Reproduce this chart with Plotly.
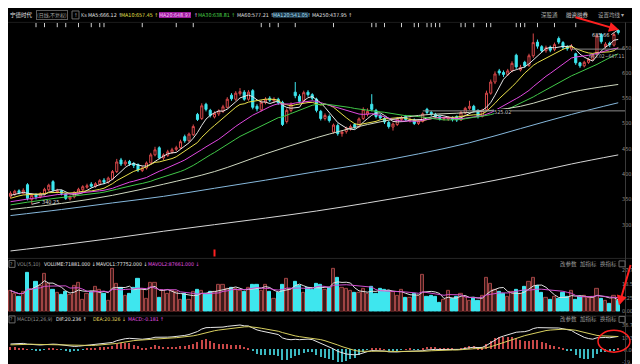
import plotly.graph_objects as go
import pandas as pd

W, H = 640, 364
FONT = "Noto Sans CJK SC"
NARROW = "Liberation Sans Narrow, DejaVu Sans Condensed, Noto Sans CJK SC"
RED = "#d9484a"
CYAN = "#3ee6ee"

# ---------------- data ----------------
pre_close = [318, 322, 320, 326, 330, 328, 324, 330, 334, 332, 336, 340, 338, 334, 330,
             336, 342, 346, 344, 340, 338, 344, 350, 348, 352, 356, 354, 358, 360]

opens = [
    356, 360, 367, 362, 379, 350, 359, 355, 361, 369,
    385, 364, 367, 361, 351, 355, 363, 369, 374, 380,
    376, 380, 388, 384, 390, 405, 428, 420, 425, 421,
    419, 407, 412, 422, 438, 452, 432, 437, 443, 449,
    452, 474, 466, 478, 518, 510, 538, 526, 513, 519,
    524, 532, 556, 548, 559, 562, 548, 565, 534, 527,
    542, 550, 545, 548, 542, 504, 526, 562, 554, 545,
    562, 557, 548, 524, 510, 514, 483, 496, 480, 484,
    490, 498, 494, 510, 518, 538, 526, 516, 510, 502,
    493, 498, 508, 514, 506, 507, 500, 504, 528, 522,
    518, 514, 509, 509, 512, 514, 507, 521, 530, 534,
    526, 514, 527, 560, 582, 604, 601, 597, 604, 635,
    606, 621, 615, 634, 661, 652, 644, 651, 646, 668,
    660, 652, 647, 638, 620, 614, 621, 627, 638, 676,
    652, 659, 655, 684]

closes = [
    362, 366, 363, 368, 352, 358, 355, 361, 370, 378,
    368, 367, 362, 352, 355, 364, 370, 375, 377, 376,
    381, 387, 384, 392, 405, 424, 420, 424, 420, 417,
    408, 412, 422, 438, 448, 432, 438, 444, 448, 452,
    464, 466, 479, 494, 508, 535, 528, 516, 520, 525,
    533, 548, 549, 560, 563, 548, 562, 532, 529, 542,
    548, 546, 548, 541, 498, 526, 538, 555, 544, 561,
    557, 550, 526, 510, 516, 506, 497, 480, 483, 490,
    494, 493, 509, 528, 524, 528, 514, 511, 503, 494,
    499, 509, 511, 508, 508, 500, 505, 519, 522, 519,
    514, 510, 510, 511, 508, 507, 522, 530, 534, 526,
    514, 526, 560, 582, 598, 600, 597, 604, 619, 612,
    611, 614, 634, 660, 653, 644, 650, 645, 656, 661,
    651, 648, 653, 620, 614, 621, 627, 635, 673, 662,
    657, 656, 676, 680]

highs = [
    366, 369, 370, 372, 382, 362, 362, 364, 373, 381,
    388, 371, 369, 363, 358, 366, 373, 378, 381, 384,
    384, 390, 392, 395, 408, 430, 432, 428, 428, 424,
    421, 416, 425, 442, 454, 455, 441, 448, 452, 456,
    468, 478, 482, 498, 521, 540, 541, 529, 524, 528,
    537, 552, 560, 564, 570, 566, 566, 568, 538, 546,
    552, 554, 552, 551, 545, 530, 542, 582, 558, 565,
    566, 560, 551, 527, 520, 518, 500, 500, 487, 494,
    498, 501, 512, 532, 530, 558, 529, 519, 513, 505,
    502, 513, 515, 517, 512, 510, 508, 522, 531, 525,
    521, 516, 513, 514, 514, 516, 525, 533, 545, 537,
    528, 529, 565, 587, 603, 608, 605, 608, 623, 638,
    616, 624, 638, 678, 666, 655, 654, 654, 660, 672,
    663, 655, 657, 640, 622, 624, 630, 638, 677, 679,
    661, 662, 680, 685.66]

lows = [
    352, 357, 360, 360, 348, 340.25, 350, 352, 358, 366,
    365, 362, 358, 349, 348, 352, 361, 366, 371, 373,
    373, 377, 380, 381, 388, 402, 416, 416, 416, 412,
    404, 404, 409, 420, 435, 429, 428, 434, 440, 445,
    449, 462, 463, 475, 505, 507, 524, 512, 510, 515,
    521, 530, 545, 545, 555, 545, 545, 528, 524, 524,
    538, 542, 541, 537, 495, 500, 522, 550, 540, 541,
    553, 546, 522, 506, 506, 502, 480, 476, 474, 480,
    486, 489, 491, 507, 514, 524, 510, 508, 499, 490,
    486, 495, 505, 505, 502, 497, 497, 502, 518, 515,
    510, 506, 506, 505, 504, 503, 505, 518, 527, 522,
    510, 512, 525, 557, 578, 595, 592, 594, 601, 608,
    603, 610, 612, 630, 648, 640, 640, 641, 643, 657,
    647, 644, 643, 616, 610, 611, 618, 624, 635, 658,
    648, 651, 652, 676]

# volume in 万手
volumes = [
    14, 11.8, 10, 12.9, 26.2, 14.5, 20.2, 17.3, 25, 18.4,
    14.5, 12.2, 11.1, 12.9, 11.3, 17.3, 19.5, 7.8, 11.8, 12.9,
    16.7, 14.5, 11.8, 7.3, 28.4, 18.4, 15.8, 10.7, 11.8, 16.2,
    21.8, 15, 8.4, 19.5, 19.5, 9.1, 14, 11.8, 14, 12.9,
    7.8, 11.8, 7.8, 12.9, 14.5, 14, 11.8, 12.9, 13.5,
    18, 18, 15.1, 16.2, 15.1, 13.6, 12.9, 16.2, 17.8, 17.8,
    14, 18, 12.9, 8.4, 12.4, 17.8, 21.8, 15.1, 20, 17.3,
    12.2, 16.2, 14.5, 18.4, 18, 14.5, 16.2, 28.4, 22.4, 16.2,
    15.1, 13.6, 12.2, 12.2, 15.1, 11.8, 16.7, 11.8, 15.1, 14.5,
    14, 12.9, 10.7, 14.5, 9.1, 9.1, 11.8, 10.7, 24.4,
    10, 10.7, 9.6, 5.6, 7.8, 14, 8.4, 9.6, 11.8, 10, 7.3, 9.1, 7.3, 10.7,
    22.9,
    18.4, 14.5, 12.9, 11.8, 9.6, 12.9, 14.5, 11.8, 16.7, 20.2,
    22.4, 17.3, 12.2, 9.1, 7.8, 9.6, 8.4, 12.2,
    9.6, 13.6, 7.8, 10, 10.7, 9.1, 9.6, 15.1,
    8.4, 7.3, 5.1, 10.7, 7.19]

ma_idx = [0, 12, 24, 36, 48, 60, 72, 84, 96, 108, 120, 132, 143]
ma60_pts = [330, 342, 358, 380, 405, 440, 472, 498, 516, 522, 534, 562, 577.21]
ma120_pts = [318, 330, 343, 356, 372, 388, 405, 421, 440, 462, 490, 518, 541.05]
ma250_pts = [248, 260, 273, 287, 300, 313, 327, 343, 360, 378, 398, 420, 437.95]

event_idx = [6, 8, 11, 13, 16, 19, 21, 22, 31, 39, 43, 59, 61, 63, 67, 76, 85, 86, 88,
             92, 95, 96, 98, 99, 100, 101, 106, 107, 109, 112, 113, 119, 120, 121, 124,
             128, 133]

price_ticks = [300, 350, 400, 450, 500, 550, 600, 650]
vol_ticks = [0, 9.25, 18.5, 27.75]
macd_ticks = [-19.35, 0, 17.32, 36.70]
macd_ticktext = ["-19.35", "-0.00", "17.32", "36.70"]

# ---------------- derived via pandas ----------------
N = len(closes)
xs = list(range(N))
s = pd.Series(pre_close + closes, dtype=float)
P = len(pre_close)
ma = {n: s.rolling(n).mean().iloc[P:].tolist() for n in (5, 10, 20, 30)}
ema12 = s.ewm(span=12, adjust=False).mean()
ema26 = s.ewm(span=26, adjust=False).mean()
dif_full = ema12 - ema26
dea_full = dif_full.ewm(span=9, adjust=False).mean()
dif = dif_full.iloc[P:].tolist()
dea = dea_full.iloc[P:].tolist()
hist = [2 * (a - b) for a, b in zip(dif, dea)]
vs = pd.Series(volumes, dtype=float)
mavol1 = vs.rolling(5, min_periods=1).mean().tolist()
mavol2 = vs.rolling(10, min_periods=1).mean().tolist()

up = [c >= o for o, c in zip(opens, closes)]

# ---------------- figure ----------------
XEND = 617
def py(y):
    return (H - y) / H

fig = go.Figure()
fig.add_trace(go.Candlestick(
    x=xs, open=opens, high=highs, low=lows, close=closes,
    increasing=dict(line=dict(color=RED, width=1), fillcolor="#000000"),
    decreasing=dict(line=dict(color=CYAN, width=1), fillcolor=CYAN),
    whiskerwidth=0, hoverinfo="skip", xaxis="x", yaxis="y"))

ma_colors = {5: "#e6e6e6", 10: "#e8e04a", 20: "#e048e0", 30: "#40c848"}
for n in (5, 10, 20, 30):
    fig.add_trace(go.Scatter(x=xs, y=ma[n], mode="lines",
                             line=dict(color=ma_colors[n], width=1), hoverinfo="skip"))
fig.add_trace(go.Scatter(x=ma_idx, y=ma60_pts, mode="lines", line=dict(color="#cfd8c0", width=1, shape="spline"), hoverinfo="skip"))
fig.add_trace(go.Scatter(x=ma_idx, y=ma120_pts, mode="lines", line=dict(color="#86b8dc", width=1, shape="spline"), hoverinfo="skip"))
fig.add_trace(go.Scatter(x=ma_idx, y=ma250_pts, mode="lines", line=dict(color="#d6d6d6", width=1, shape="spline"), hoverinfo="skip"))

# event ticks
fig.add_trace(go.Scatter(x=event_idx, y=[696] * len(event_idx), mode="markers",
                         marker=dict(symbol="line-ns-open", size=4, color="#d0d0d0",
                                     line=dict(color="#d0d0d0", width=1)),
                         hoverinfo="skip"))
fig.add_trace(go.Scatter(x=[48], y=[244], mode="markers",
                         marker=dict(symbol="line-ns-open", size=5, color="#ff2020",
                                     line=dict(color="#ff2020", width=2)),
                         hoverinfo="skip"))

# volume
fig.add_trace(go.Bar(x=xs, y=volumes, width=0.72, yaxis="y2",
                     marker=dict(color=["#3c1a1a" if u else CYAN for u in up],
                                 line=dict(color=["#a04444" if u else CYAN for u in up], width=1)),
                     hoverinfo="skip"))
fig.add_trace(go.Scatter(x=xs, y=mavol1, yaxis="y2", mode="lines", line=dict(color="#e0e0e0", width=1), hoverinfo="skip"))
fig.add_trace(go.Scatter(x=xs, y=mavol2, yaxis="y2", mode="lines", line=dict(color="#d050d0", width=1), hoverinfo="skip"))

# MACD
fig.add_trace(go.Bar(x=xs, y=hist, width=0.28, yaxis="y3",
                     marker=dict(color=["#c84848" if h >= 0 else "#3cb8c0" for h in hist], line=dict(width=0)),
                     hoverinfo="skip"))
fig.add_trace(go.Scatter(x=xs, y=dif, yaxis="y3", mode="lines", line=dict(color="#e6e6e6", width=1), hoverinfo="skip"))
fig.add_trace(go.Scatter(x=xs, y=dea, yaxis="y3", mode="lines", line=dict(color="#d8d060", width=1), hoverinfo="skip"))

axis_font = dict(size=5.5, color="#8c8c8c", family=NARROW)
common_y = dict(side="right", anchor="x", showgrid=False, zeroline=False, showline=False,
                ticks="", ticklen=0, tickfont=axis_font, fixedrange=True, ticklabelstandoff=-4)
fig.update_layout(
    width=W, height=H, margin=dict(l=0, r=0, t=0, b=0),
    paper_bgcolor="#000000", plot_bgcolor="#000000", showlegend=False,
    bargap=0,
    xaxis=dict(domain=[0, XEND / W], range=[-0.588, 144.59], visible=False,
               rangeslider=dict(visible=False), fixedrange=True),
    yaxis=dict(domain=[py(251), py(15)], range=[236.2, 699.0], tickvals=price_ticks,
               ticktext=[f"{v:.2f}" for v in price_ticks], **common_y),
    yaxis2=dict(domain=[py(306), py(261)], range=[0, 30], tickvals=vol_ticks,
                ticktext=[f"{v:.2f}" for v in vol_ticks], **common_y),
    yaxis3=dict(domain=[py(364), py(316)], range=[-29.0, 42.1], tickvals=macd_ticks,
                ticktext=macd_ticktext, **common_y),
)

# separators
def hline(y, x0=0, x1=W, color="#262626"):
    fig.add_shape(type="line", xref="paper", yref="paper", x0=x0 / W, x1=x1 / W, y0=py(y), y1=py(y),
                  line=dict(color=color, width=1))
hline(252.5)
hline(310.5)
hline(14.5, color="#1c1c1c")
fig.add_shape(type="line", xref="paper", yref="paper", x0=(XEND + 0.5) / W, x1=(XEND + 0.5) / W,
              y0=0, y1=py(14.5), line=dict(color="#3a3a3a", width=1))

# reference lines on price panel
fig.add_shape(type="line", xref="x", yref="y", x0=97, x1=144.59, y0=525.02, y1=525.02,
              line=dict(color="#8a8a8a", width=1))
fig.add_shape(type="line", xref="x", yref="y", x0=132, x1=144.59, y0=647.11, y1=647.11,
              line=dict(color="#8a8a8a", width=1))

def txt(x, y, s, color, size=5.5, bg=None, anchor="left", border=None, family=NARROW):
    fig.add_annotation(x=x / W, y=py(y), xref="paper", yref="paper", text=s, showarrow=False,
                       xanchor=anchor, yanchor="middle", bgcolor=bg, borderpad=0,
                       bordercolor=border if border else "rgba(0,0,0,0)", borderwidth=1 if border else 0,
                       font=dict(size=size, color=color, family=family))

txt(494, 104.5, "525.02", "#c8c8c8", size=5.5, bg="#000000", anchor="center")
txt(616, 48, "603.02~647.11", "#b0b0b0", size=5, anchor="right")

fig.add_annotation(x=5, y=340.25, xref="x", yref="y", text="340.25", showarrow=True, arrowhead=0,
                   arrowwidth=1, arrowcolor="#d0d0d0", ax=8, ay=-2, xanchor="left", standoff=0,
                   font=dict(size=5.5, color="#d8d8d8", family=NARROW))
fig.add_annotation(x=143, y=685.66, xref="x", yref="y", text="685.66", showarrow=True, arrowhead=0,
                   arrowwidth=1, arrowcolor="#d0d0d0", ax=-7, ay=5, xanchor="right", standoff=0,
                   font=dict(size=5.5, color="#d8d8d8", family=NARROW))

# top legend
txt(2, 7, "宁德时代", "#e8e8e8", size=5.5, family=FONT)
txt(28, 7, "(日线,不复权)", "#a0a0a0", size=5, border="#5a5a5a", family=FONT)
fig.add_shape(type="rect", xref="paper", yref="paper", x0=64 / W, x1=71 / W, y0=py(11), y1=py(3),
              line=dict(color="#6a6a6a", width=1))
txt(65.5, 7, "↑", "#a0a0a0", size=5)
txt(73, 7, "Ks", "#c0c0c0", size=5.5)
legend_items = [
    (80, "MA5:666.12 ↑", "#e6e6e6", None),
    (113, "MA10:657.45 ↑", "#e8e04a", None),
    (151, "MA20:648.97", "#ffc0ff", "#9a1c9a"),
    (186, "↑", "#ffc0ff", None),
    (190, "MA30:638.81 ↑", "#48d048", None),
    (229, "MA60:577.21 ↑", "#e0e0e0", None),
    (265, "MA120:541.05", "#a8e0ff", "#1e3646"),
    (299, "↑", "#a8e0ff", None),
    (304, "MA250:437.95 ↑", "#e0e0e0", None),
]
for x0, label, col, bg in legend_items:
    txt(x0, 7, label, col, size=5.3, bg=bg)

txt(533, 7, "深股通", "#a8a8a8", size=5.5, family=FONT)
txt(558, 7, "融资融券", "#d0d0d0", size=5.5, family=FONT)
txt(590, 7, "设置均线 ▾", "#a8a8a8", size=5.5, family=FONT)

# red user annotations
fig.add_annotation(x=611 / W, y=py(22), xref="paper", yref="paper", text="", showarrow=True,
                   arrowhead=2, arrowsize=1, arrowwidth=2, arrowcolor="#ff2020", ax=-45, ay=-13)
fig.add_annotation(x=611 / W, y=py(300), xref="paper", yref="paper", text="", showarrow=True,
                   arrowhead=2, arrowsize=1, arrowwidth=2, arrowcolor="#ff2020", ax=12, ay=-42)
fig.add_shape(type="circle", xref="paper", yref="paper", x0=590 / W, x1=622 / W, y0=py(347), y1=py(325),
              line=dict(color="#ff2020", width=1.5))

# panel legends
def panel_legend(y, items):
    fig.add_shape(type="rect", xref="paper", yref="paper", x0=1 / W, x1=7 / W, y0=py(y + 3.5), y1=py(y - 3.5),
                  line=dict(color="#6a6a6a", width=1))
    txt(2.2, y, "?", "#a0a0a0", size=5)
    for x0, label, col in items:
        txt(x0, y, label, col, size=5.2)
    txt(552, y, "改参数", "#9a9a9a", size=5.5, family=FONT)
    txt(572, y, "加指标", "#9a9a9a", size=5.5, family=FONT)
    txt(592, y, "换指标", "#9a9a9a", size=5.5, family=FONT)
    fig.add_shape(type="rect", xref="paper", yref="paper", x0=611 / W, x1=617 / W, y0=py(y + 3), y1=py(y - 3),
                  line=dict(color="#6a6a6a", width=1))

panel_legend(258, [
    (9, "VOL(5,10)", "#909090"),
    (36, "VOLUME:71881.000 ↓", "#e6e6e6"),
    (88, "MAVOL1:77752.000 ↓", "#e6e6e6"),
    (140, "MAVOL2:87661.000 ↓", "#e050e0"),
])
panel_legend(314, [
    (9, "MACD(12,26,9)", "#909090"),
    (48, "DIF:20.236 ↑", "#e6e6e6"),
    (85, "DEA:20.326 ↓", "#e0d860"),
    (120, "MACD:-0.181 ↑", "#e050e0"),
])

fig.write_html("out.html", config={"displayModeBar": False})
